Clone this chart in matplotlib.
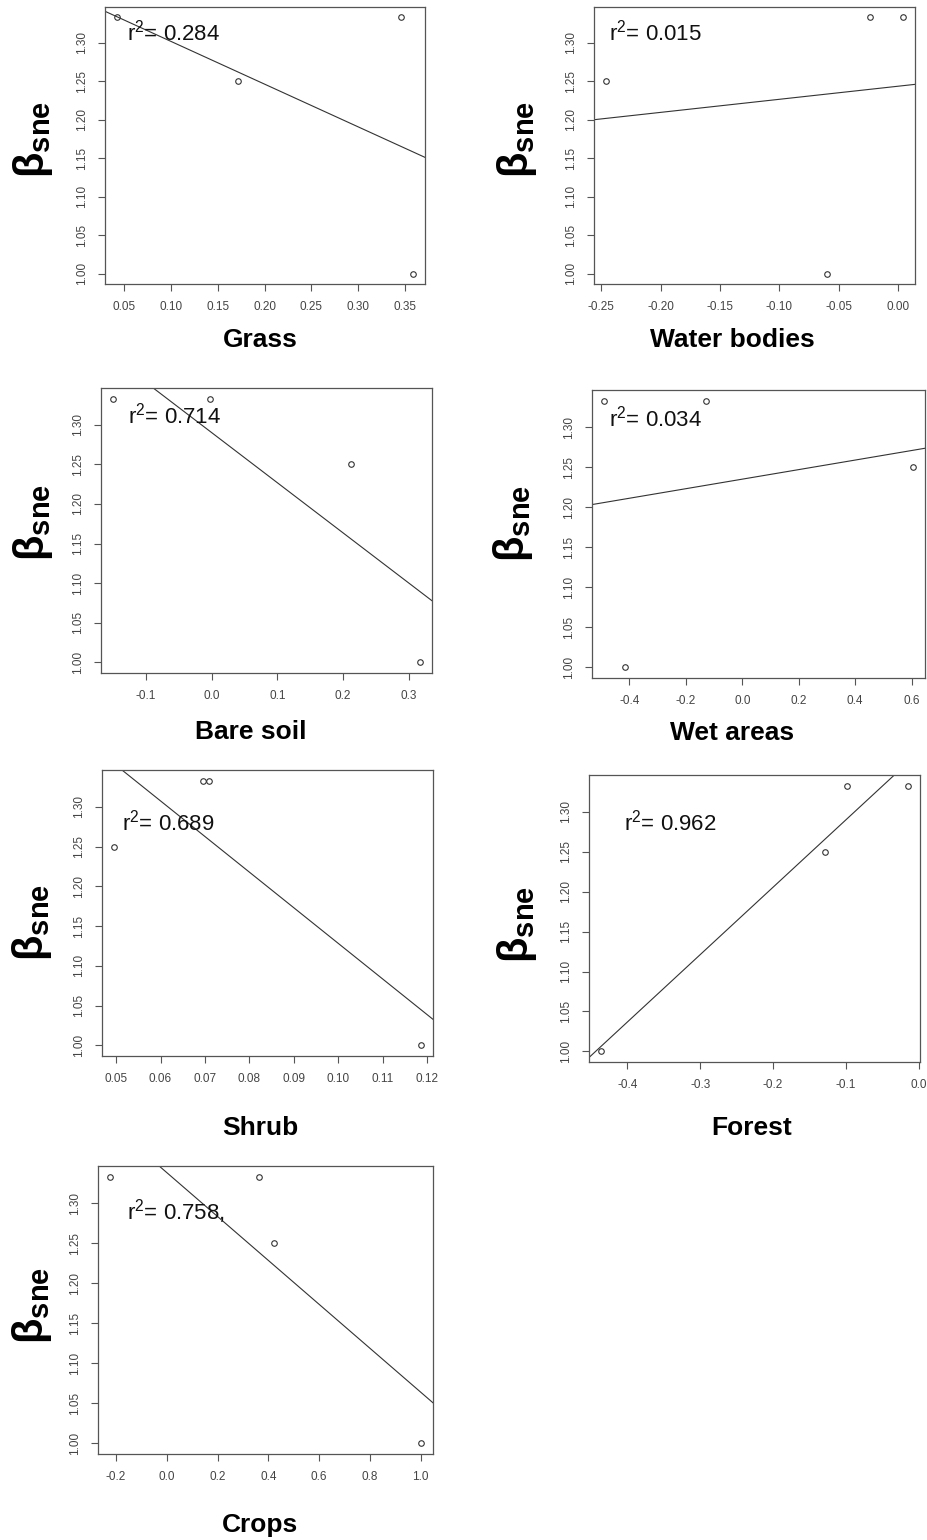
# Beta_sne frente a cobertura del suelo: 7 paneles con recta de regresión
import matplotlib
matplotlib.use('Agg')
import matplotlib.pyplot as plt

plt.rcParams['font.family'] = ['Liberation Sans', 'DejaVu Sans']
plt.rcParams['mathtext.fontset'] = 'custom'
plt.rcParams['mathtext.rm'] = 'Liberation Sans'
plt.rcParams['mathtext.it'] = 'Liberation Sans:italic'
plt.rcParams['mathtext.bf'] = 'Liberation Sans:bold'

# datos
variables = ['Grass', 'Water bodies', 'Bare soil', 'Wet areas', 'Shrub', 'Forest', 'Crops']

x_grass = [0.042, 0.172, 0.346, 0.359]
y_grass = [1.333, 1.25, 1.333, 1.0]
x_water = [-0.246, -0.060, -0.024, 0.004]
y_water = [1.25, 1.0, 1.333, 1.333]
x_bare = [-0.150, -0.002, 0.212, 0.317]
y_bare = [1.333, 1.333, 1.25, 1.0]
x_wet = [-0.489, -0.415, -0.129, 0.6035]
y_wet = [1.333, 1.0, 1.333, 1.25]
x_shrub = [0.0496, 0.0695, 0.0710, 0.1185]
y_shrub = [1.25, 1.333, 1.333, 1.0]
x_forest = [-0.436, -0.128, -0.098, -0.015]
y_forest = [1.0, 1.25, 1.333, 1.333]
x_crops = [-0.2225, 0.3645, 0.422, 1.0]
y_crops = [1.333, 1.333, 1.25, 1.0]

# recta ajustada (intercepto, pendiente) y r2 tal como aparecen
intercepto = [1.357, 1.2435, 1.290, 1.235, 1.5765, 1.3745, 1.338]
pendiente = [-0.554, 0.170, -0.632, 0.0596, -4.484, 0.844, -0.274]
r2 = ['0.284', '0.015', '0.714', '0.034', '0.689', '0.962', '0.758,']

xs = [x_grass, x_water, x_bare, x_wet, x_shrub, x_forest, x_crops]
ys = [y_grass, y_water, y_bare, y_wet, y_shrub, y_forest, y_crops]

xticks = [
    [0.05, 0.10, 0.15, 0.20, 0.25, 0.30, 0.35],
    [-0.25, -0.20, -0.15, -0.10, -0.05, 0.00],
    [-0.1, 0.0, 0.1, 0.2, 0.3],
    [-0.4, -0.2, 0.0, 0.2, 0.4, 0.6],
    [0.05, 0.06, 0.07, 0.08, 0.09, 0.10, 0.11, 0.12],
    [-0.4, -0.3, -0.2, -0.1, 0.0],
    [-0.2, 0.0, 0.2, 0.4, 0.6, 0.8, 1.0],
]
xfmt = ['%.2f', '%.2f', '%.1f', '%.1f', '%.2f', '%.1f', '%.1f']
yticks = [1.00, 1.05, 1.10, 1.15, 1.20, 1.25, 1.30]

# posiciones en pixeles: caja (izq, arriba, der, abajo), etiqueta x, etiqueta y, texto r2
W, H = 927, 1540
cajas = [(105, 7, 425, 284), (594, 7, 915, 284), (101, 388, 432, 673),
         (592, 390, 925, 678), (102, 770, 433, 1056), (589, 775, 920, 1062),
         (98, 1166, 433, 1454)]
pos_xlab = [(260, 340), (732, 340), (251, 732), (732, 733), (260, 1128), (752, 1128), (260, 1525)]
pos_ylab = [(33, 140), (517, 140), (33, 523), (513, 524), (32, 923), (517, 925), (32, 1306)]
pos_r2 = [(0.069, 0.878), (0.048, 0.878), (0.081, 0.876), (0.051, 0.875),
          (0.060, 0.788), (0.105, 0.805), (0.088, 0.814)]

fig = plt.figure(figsize=(W / 100, H / 100), dpi=100)

for i in range(7):
    l, t, r, b = cajas[i]
    ax = fig.add_axes([l / W, 1 - b / H, (r - l) / W, (b - t) / H])
    x, y = xs[i], ys[i]
    ax.plot(x, y, 'o', ms=4, mfc='none', mec='#333333', mew=0.8)
    ax.axline((0, intercepto[i]), slope=pendiente[i], color='#333333', lw=0.8)
    # rango como en R: 4% de margen
    dx = (max(x) - min(x)) * 0.04
    dy = (max(y) - min(y)) * 0.04
    ax.set_xlim(min(x) - dx, max(x) + dx)
    ax.set_ylim(min(y) - dy, max(y) + dy)
    ax.set_xticks(xticks[i])
    ax.set_xticklabels([xfmt[i] % v for v in xticks[i]])
    ax.set_yticks(yticks)
    ax.set_yticklabels(['%.2f' % v for v in yticks], rotation=90, va='center')
    ax.tick_params(labelsize=8.5, labelcolor='#444444', color='#555555',
                   length=5, width=0.8, pad=7)
    for s in ax.spines.values():
        s.set_color('#555555')
        s.set_linewidth(0.9)
    ax.text(pos_r2[i][0], pos_r2[i][1], 'r$^{2}$= ' + r2[i], transform=ax.transAxes,
            fontsize=16, ha='left', va='baseline', color='#111111')
    fig.text(pos_xlab[i][0] / W, 1 - pos_xlab[i][1] / H, variables[i],
             fontsize=19, fontweight='bold', ha='center', va='center')
    fig.text(pos_ylab[i][0] / W, 1 - pos_ylab[i][1] / H, r'$\mathbf{β_{sne}}$',
             fontsize=30, rotation=90, ha='center', va='center')

plt.savefig('out.png', dpi=100)
